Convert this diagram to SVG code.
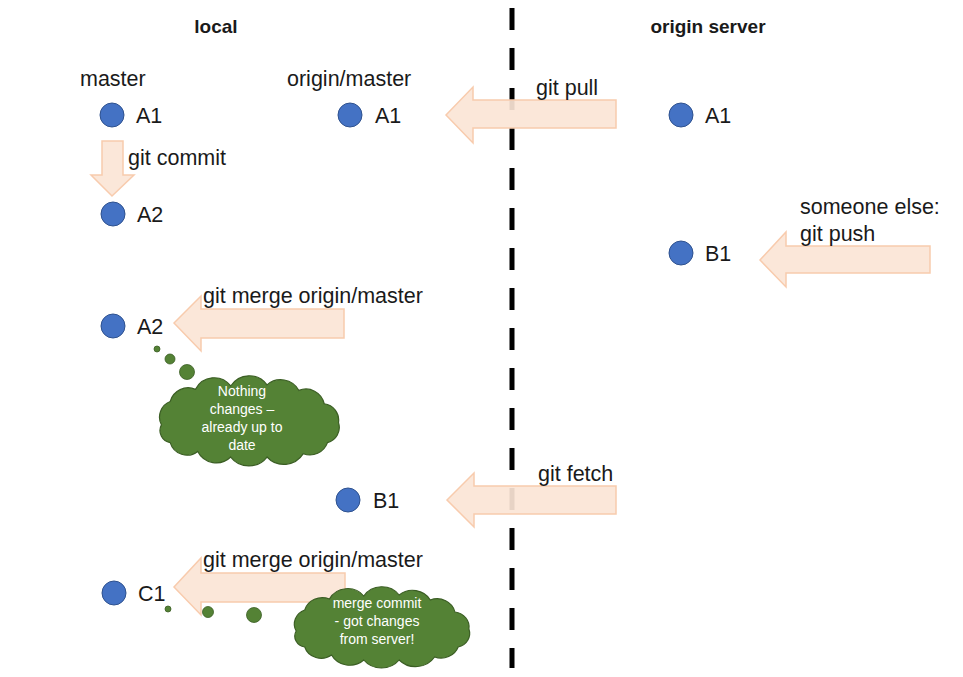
<svg xmlns="http://www.w3.org/2000/svg" xmlns:xlink="http://www.w3.org/1999/xlink" width="963" height="677" viewBox="0 0 963 677">
<style>
text{font-family:"Liberation Sans",Arial,sans-serif;fill:#1a1a1a}
.t{font-size:21.5px}
.h{font-size:19px;font-weight:bold;text-anchor:middle}
.c{font-size:14px;fill:#ffffff;text-anchor:middle}
.node{fill:#4472C4;stroke:#2F528F;stroke-width:1}
.arrow{fill:#FBE5D6;fill-opacity:0.92;stroke:#F8CBAD;stroke-width:1.5}
.cloud{fill:#548235;stroke:#3B5E24;stroke-width:1.1}
.dot{fill:#548235;stroke:#3B5E24;stroke-width:0.8}
</style>
<defs>
<path id="cloudShape" d="M9,44 A15,15 0 0 1 17,23 A17,17 0 0 1 40,12 A19,19 0 0 1 72,9 A20,20 0 0 1 105,8 A19,19 0 0 1 134,13 A17,17 0 0 1 157,25 A15,15 0 0 1 170,42 A14,14 0 0 1 160,60 A17,17 0 0 1 138,70 A21,21 0 0 1 105,73 A21,21 0 0 1 72,73 A19,19 0 0 1 42,68 A16,16 0 0 1 17,60 A11,11 0 0 1 9,44 Z"/>
</defs>
<rect width="963" height="677" fill="#ffffff"/>
<g id="divider">
<line x1="512" y1="8" x2="512" y2="668" stroke="#000" stroke-width="5" stroke-dasharray="22 18"/>
</g>
<g id="titles">
<text class="h" x="216" y="33">local</text>
<text class="h" x="708" y="33">origin server</text>
</g>
<g id="connectors">
<g id="commit-arrow"><path class="arrow" d="M102,141 L123,141 L123,175 L134,175 L112,196 L91,175 L102,175 Z"/><text class="t" x="128" y="165">git commit</text></g>
<g id="pull-arrow"><path class="arrow" d="M446,115 L473,87 L473,100 L616,100 L616,128 L473,128 L473,143 Z"/><text class="t" x="536" y="95">git pull</text></g>
<g id="push-arrow"><path class="arrow" d="M760,260 L786,232 L786,246 L930,246 L930,273 L786,273 L786,287 Z"/><text class="t" x="800" y="214">someone else:</text><text class="t" x="800" y="241">git push</text></g>
<g id="merge1-arrow"><path class="arrow" d="M174,323 L201,296 L201,309 L344,309 L344,338 L201,338 L201,351 Z"/><text class="t" x="203" y="303">git merge origin/master</text></g>
<g id="fetch-arrow"><path class="arrow" d="M447,500 L474,473 L474,486 L616,486 L616,514 L474,514 L474,527 Z"/><text class="t" x="538" y="481">git fetch</text></g>
<g id="merge2-arrow"><path class="arrow" d="M174,587 L201,558 L201,573 L345,573 L345,602 L201,602 L201,615 Z"/><text class="t" x="203" y="567">git merge origin/master</text></g>
</g>
<g id="local-master-A1"><text class="t" x="80" y="86">master</text><circle class="node" cx="112" cy="115" r="12"/><text class="t" x="136" y="123">A1</text></g>
<g id="local-origin-A1"><text class="t" x="287" y="86">origin/master</text><circle class="node" cx="350" cy="115" r="12"/><text class="t" x="375" y="123">A1</text></g>
<g id="local-A2"><circle class="node" cx="113" cy="214" r="12"/><text class="t" x="137" y="222">A2</text></g>
<g id="server-A1"><circle class="node" cx="681" cy="115" r="12"/><text class="t" x="705" y="123">A1</text></g>
<g id="server-B1"><circle class="node" cx="681" cy="253" r="12"/><text class="t" x="705" y="261">B1</text></g>
<g id="local-A2-merge"><circle class="node" cx="113" cy="326" r="12"/><text class="t" x="137" y="334">A2</text></g>
<g id="cloud-1">
<circle class="dot" cx="157" cy="349" r="3"/>
<circle class="dot" cx="170" cy="359" r="5"/>
<circle class="dot" cx="187" cy="372" r="7.5"/>
<use xlink:href="#cloudShape" class="cloud" transform="translate(151.5,376) scale(1.1,1.11)"/>
<text class="c" x="242" y="396">Nothing</text>
<text class="c" x="242" y="414">changes –</text>
<text class="c" x="242" y="432">already up to</text>
<text class="c" x="242" y="450">date</text>
</g>
<g id="local-origin-B1"><circle class="node" cx="348" cy="500" r="12"/><text class="t" x="373" y="508">B1</text></g>
<g id="local-C1"><circle class="node" cx="114" cy="593" r="12"/><text class="t" x="138" y="601">C1</text></g>
<g id="cloud-2">
<circle class="dot" cx="168" cy="609" r="3"/>
<circle class="dot" cx="208" cy="612" r="5.5"/>
<circle class="dot" cx="254" cy="615" r="7.5"/>
<use xlink:href="#cloudShape" class="cloud" transform="translate(286.5,587) scale(1.073,1.0)"/>
<text class="c" x="377" y="608">merge commit</text>
<text class="c" x="377" y="626">- got changes</text>
<text class="c" x="377" y="644">from server!</text>
</g>
</svg>
